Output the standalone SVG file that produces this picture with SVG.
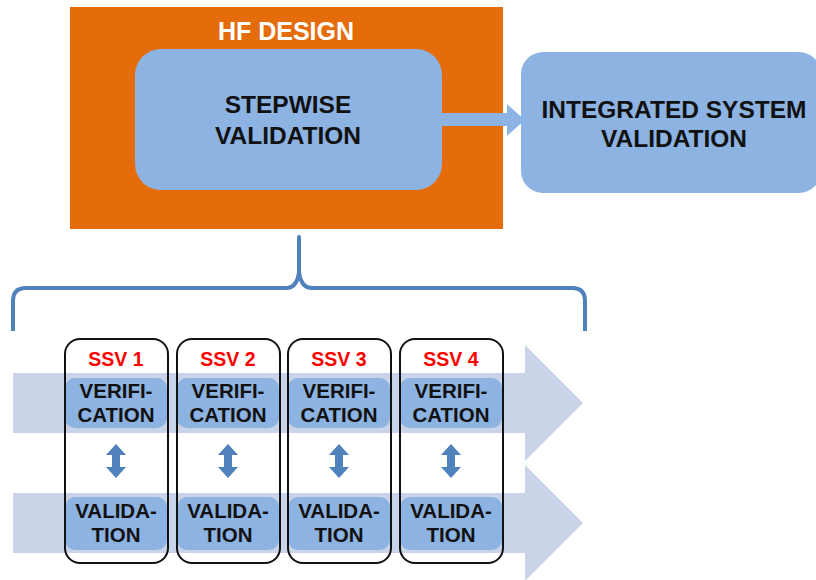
<svg xmlns="http://www.w3.org/2000/svg" width="816" height="580" viewBox="0 0 816 580">
  <defs>
    <style>
      .lbl { font-family: "Liberation Sans", Arial, sans-serif; font-weight: bold; text-anchor: middle; fill: #111111; }
      .big { font-size: 24.5px; }
      .small { font-size: 20.5px; }
      .ssv { font-family: "Liberation Sans", Arial, sans-serif; font-weight: bold; text-anchor: middle; fill: #FF0000; font-size: 19.5px; }
      .blue { fill: #8DB3E2; }
      .band { fill: #8DB3E2; }
      .flow { fill: #C9D4E9; }
      .ssvbox { fill: none; stroke: #111111; stroke-width: 2; }
      .dbl { fill: #4F81BD; }
    </style>
    <!-- double-headed vertical arrow, centred at 0,0 -->
    <path id="dblArrow" d="M0,-17 L10,-6 L4,-6 L4,6 L10,6 L0,17 L-10,6 L-4,6 L-4,-6 L-10,-6 Z"/>
  </defs>

  <rect width="816" height="580" fill="#FFFFFF"/>

  <!-- HF design container -->
  <g id="hf-design">
    <rect x="70" y="7" width="433" height="222" fill="#E46C0A"/>
    <text x="286" y="40" font-family="Liberation Sans, Arial, sans-serif" font-weight="bold" font-size="25" fill="#FFFFFF" text-anchor="middle">HF DESIGN</text>
  </g>

  <g id="stepwise-validation">
    <rect class="blue" x="135" y="49" width="307" height="141" rx="26"/>
    <text class="lbl big" x="288" y="113">STEPWISE</text>
    <text class="lbl big" x="288" y="144">VALIDATION</text>
  </g>

  <g id="integrated-system-validation">
    <rect class="blue" x="521" y="52" width="300" height="141" rx="22"/>
    <text class="lbl big" x="674" y="118">INTEGRATED SYSTEM</text>
    <text class="lbl big" x="674" y="147">VALIDATION</text>
  </g>

  <!-- connectors -->
  <g id="connectors">
    <path class="blue" d="M442,113 H507 V104 L525,120 L507,136 V126 H442 Z"/>
    <path d="M13,331 V301 Q13,288 26,288 H286 Q297,288 299,272 V237 V272 Q301,288 312,288 H572 Q585,288 585,301 V331"
          fill="none" stroke="#4F81BD" stroke-width="4" stroke-linejoin="round"/>
  </g>

  <!-- process flow arrows -->
  <g id="flow-arrows">
    <path class="flow" d="M13,373 H525 V345 L583,403 L525,461 V433 H13 Z"/>
    <path class="flow" d="M13,493 H525 V465 L583,523 L525,581 V553 H13 Z"/>
  </g>

  <g id="ssv1">
    <rect class="band" x="65" y="378" width="102" height="50" rx="10"/>
    <rect class="band" x="65" y="497" width="102" height="53" rx="10"/>
    <rect class="ssvbox" x="65" y="339" width="103" height="224" rx="15"/>
    <text class="ssv" x="116" y="366">SSV 1</text>
    <text class="lbl small" x="116" y="398">VERIFI-</text>
    <text class="lbl small" x="116" y="422">CATION</text>
    <use href="#dblArrow" class="dbl" x="116" y="461"/>
    <text class="lbl small" x="116" y="518">VALIDA-</text>
    <text class="lbl small" x="116" y="542">TION</text>
  </g>

  <g id="ssv2">
    <rect class="band" x="177" y="378" width="102" height="50" rx="10"/>
    <rect class="band" x="177" y="497" width="102" height="53" rx="10"/>
    <rect class="ssvbox" x="177" y="339" width="103" height="224" rx="15"/>
    <text class="ssv" x="228" y="366">SSV 2</text>
    <text class="lbl small" x="228" y="398">VERIFI-</text>
    <text class="lbl small" x="228" y="422">CATION</text>
    <use href="#dblArrow" class="dbl" x="228" y="461"/>
    <text class="lbl small" x="228" y="518">VALIDA-</text>
    <text class="lbl small" x="228" y="542">TION</text>
  </g>

  <g id="ssv3">
    <rect class="band" x="288" y="378" width="102" height="50" rx="10"/>
    <rect class="band" x="288" y="497" width="102" height="53" rx="10"/>
    <rect class="ssvbox" x="288" y="339" width="103" height="224" rx="15"/>
    <text class="ssv" x="339" y="366">SSV 3</text>
    <text class="lbl small" x="339" y="398">VERIFI-</text>
    <text class="lbl small" x="339" y="422">CATION</text>
    <use href="#dblArrow" class="dbl" x="339" y="461"/>
    <text class="lbl small" x="339" y="518">VALIDA-</text>
    <text class="lbl small" x="339" y="542">TION</text>
  </g>

  <g id="ssv4">
    <rect class="band" x="400" y="378" width="102" height="50" rx="10"/>
    <rect class="band" x="400" y="497" width="102" height="53" rx="10"/>
    <rect class="ssvbox" x="400" y="339" width="103" height="224" rx="15"/>
    <text class="ssv" x="451" y="366">SSV 4</text>
    <text class="lbl small" x="451" y="398">VERIFI-</text>
    <text class="lbl small" x="451" y="422">CATION</text>
    <use href="#dblArrow" class="dbl" x="451" y="461"/>
    <text class="lbl small" x="451" y="518">VALIDA-</text>
    <text class="lbl small" x="451" y="542">TION</text>
  </g>
</svg>
